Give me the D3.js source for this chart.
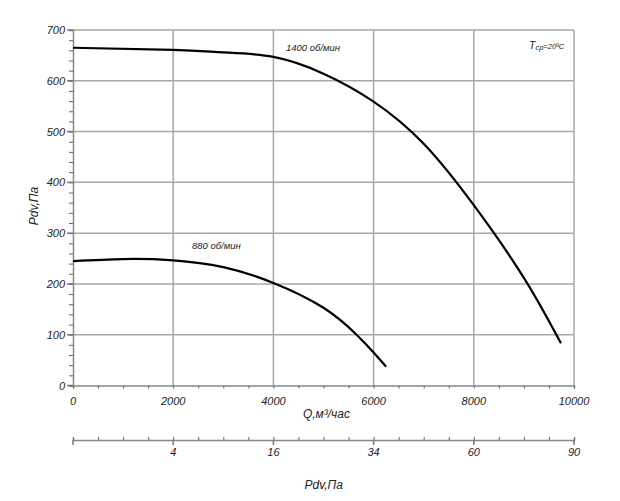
<!DOCTYPE html>
<html>
<head>
<meta charset="utf-8">
<script src="https://cdn.jsdelivr.net/npm/d3@7"></script>
<style>
  body { margin: 0; background: #fff; }
  text { font-family: "Liberation Sans", Arial, sans-serif; font-style: italic; fill: #222; }
</style>
</head>
<body>
<div class="chart"></div>
<script>
var svgWidth = 620;
var svgHeight = 501;

var margin = { top: 30, right: 46, bottom: 115, left: 73 };
var width = 574 - margin.left;
var height = 385.5 - margin.top;

// curve data, Q in m3/h, P in Pa
var q1400 = [0, 2000, 3000, 4000, 5000, 6000, 7000, 8000, 9000, 9740];
var p1400 = [665, 661, 656, 647, 614, 559, 476, 355, 212, 83];

var q880 = [0, 1000, 2000, 3000, 4000, 5000, 5660, 6000, 6250];
var p880 = [245, 249, 246.5, 233, 202, 153, 100, 65, 37];

var xTicks = [0, 2000, 4000, 6000, 8000, 10000];
var yTicks = [0, 100, 200, 300, 400, 500, 600, 700];

// second axis (dynamic pressure) labels placed at Q positions
var pdvTickPos = [2000, 4000, 6000, 8000, 10000];
var pdvTickLabels = ["4", "16", "34", "60", "90"];

var svg = d3.select(".chart")
  .append("svg")
  .attr("width", svgWidth)
  .attr("height", svgHeight);

var chartGroup = svg.append("g")
  .attr("transform", `translate(${margin.left}, ${margin.top})`);

var xScale = d3.scaleLinear().domain([0, 10000]).range([0, width]);
var yScale = d3.scaleLinear().domain([0, 700]).range([height, 0]);

var gridColor = "#a8a8a8";

// grid
chartGroup.selectAll(".hgrid")
  .data(yTicks.slice(1))
  .enter()
  .append("line")
  .attr("x1", 0).attr("x2", width)
  .attr("y1", d => yScale(d)).attr("y2", d => yScale(d))
  .attr("stroke", gridColor).attr("stroke-width", 1.5);

chartGroup.selectAll(".vgrid")
  .data(xTicks.slice(1))
  .enter()
  .append("line")
  .attr("x1", d => xScale(d)).attr("x2", d => xScale(d))
  .attr("y1", 0).attr("y2", height)
  .attr("stroke", gridColor).attr("stroke-width", 1.5);

// axes
var bottomAxis = d3.axisBottom(xScale).tickValues(d3.range(0, 10001, 500))
  .tickSize(3).tickFormat("");
var leftAxis = d3.axisLeft(yScale).tickValues(d3.range(0, 701, 20))
  .tickSize(4).tickFormat("");

var gx = chartGroup.append("g")
  .attr("transform", `translate(0, ${height})`)
  .call(bottomAxis);
var gy = chartGroup.append("g").call(leftAxis);

[gx, gy].forEach(function(g) {
  g.select(".domain").attr("stroke", "#888").attr("stroke-width", 1.5);
  g.selectAll(".tick line").attr("stroke", "#666");
});

gy.selectAll(".major")
  .data(yTicks)
  .enter()
  .append("line")
  .attr("x1", -6).attr("x2", 0)
  .attr("y1", d => yScale(d)).attr("y2", d => yScale(d))
  .attr("stroke", "#777").attr("stroke-width", 1.5);

chartGroup.selectAll(".ylab")
  .data(yTicks)
  .enter()
  .append("text")
  .attr("x", -8)
  .attr("y", d => yScale(d) + 4)
  .attr("text-anchor", "end")
  .attr("font-size", "11px")
  .text(d => d);

chartGroup.selectAll(".xlab")
  .data(xTicks)
  .enter()
  .append("text")
  .attr("x", d => xScale(d))
  .attr("y", height + 19)
  .attr("text-anchor", "middle")
  .attr("font-size", "11px")
  .text(d => d);

// curves
var line = d3.line()
  .x(d => xScale(d[0]))
  .y(d => yScale(d[1]))
  .curve(d3.curveNatural);

chartGroup.append("path")
  .datum(d3.zip(q1400, p1400))
  .attr("d", line)
  .attr("fill", "none")
  .attr("stroke", "#000")
  .attr("stroke-width", 2.2);

chartGroup.append("path")
  .datum(d3.zip(q880, p880))
  .attr("d", line)
  .attr("fill", "none")
  .attr("stroke", "#000")
  .attr("stroke-width", 2.2);

// curve labels
svg.append("text").attr("x", 286).attr("y", 51).attr("font-size", "9.5px").text("1400 об/мин");
svg.append("text").attr("x", 192).attr("y", 249).attr("font-size", "9.5px").text("880 об/мин");

var tLab = svg.append("text").attr("x", 529).attr("y", 49).attr("font-size", "9px");
tLab.append("tspan").attr("font-size", "10.5px").text("T");
tLab.append("tspan").attr("font-size", "7.5px").attr("dy", 1).text("ср");
tLab.append("tspan").attr("font-size", "7.5px").attr("dy", -1).text("=20ºC");

// axis titles
svg.append("text")
  .attr("transform", "rotate(-90)")
  .attr("x", -206)
  .attr("y", 38)
  .attr("text-anchor", "middle")
  .attr("font-size", "12px")
  .text("Pdv,Па");

svg.append("text")
  .attr("x", 350)
  .attr("y", 418)
  .attr("text-anchor", "end")
  .attr("font-size", "12px")
  .text("Q,м³/час");

// second axis: dynamic pressure
var pdvGroup = svg.append("g")
  .attr("transform", `translate(${margin.left}, 440)`);

var pdvAxis = d3.axisBottom(xScale).tickValues(d3.range(0, 10001, 500))
  .tickSize(-3).tickFormat("");
var gp = pdvGroup.call(pdvAxis);
gp.select(".domain").attr("stroke", "#888").attr("stroke-width", 1.5);
gp.selectAll(".tick line").attr("stroke", "#666");

pdvGroup.selectAll(".pmaj")
  .data([0].concat(pdvTickPos))
  .enter()
  .append("line")
  .attr("x1", d => xScale(d)).attr("x2", d => xScale(d))
  .attr("y1", 0).attr("y2", 5)
  .attr("stroke", "#777").attr("stroke-width", 1.5);

pdvGroup.selectAll(".plab")
  .data(pdvTickPos)
  .enter()
  .append("text")
  .attr("x", d => xScale(d))
  .attr("y", 16)
  .attr("text-anchor", "middle")
  .attr("font-size", "11px")
  .text((d, i) => pdvTickLabels[i]);

svg.append("text")
  .attr("x", 343)
  .attr("y", 489)
  .attr("text-anchor", "end")
  .attr("font-size", "12px")
  .text("Pdv,Па");
</script>
</body>
</html>
